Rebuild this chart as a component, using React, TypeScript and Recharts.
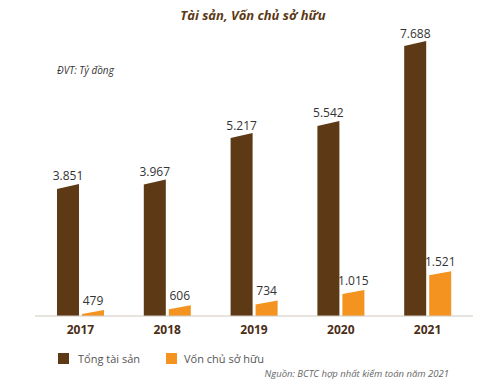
import { BarChart, Bar, XAxis, YAxis, LabelList } from "recharts";

const YEARS = ["2017", "2018", "2019", "2020", "2021"];
const TOTAL_ASSETS = [3851, 3967, 5217, 5542, 7688];
const EQUITY = [479, 606, 734, 1015, 1521];

const BROWN = "#5e3915";
const ORANGE = "#f4931f";
const FONT = "'Open Sans', sans-serif";

const data = YEARS.map((year, i) => ({
   year,
   assets: TOTAL_ASSETS[i],
   equity: EQUITY[i],
}));

const fmt = (v: any) => String(v).replace(/\B(?=(\d{3})+(?!\d))/g, ".");

// bar with a slightly slanted top (left corner lower than the right one)
const slantBar = (slope: number) => (props: any) => {
   const { x, y, width, height, fill } = props;
   const pts = `${x},${y + slope} ${x + width},${y - slope} ${x + width},${y + height} ${x},${y + height}`;
   return <polygon points={pts} fill={fill} />;
};

const App = () => {
   return (
      <div style={{ position: "absolute", left: 0, top: 0, width: 480, height: 385, background: "#fff", fontFamily: FONT }}>
         <div
            style={{
               position: "absolute",
               top: 6,
               left: 0,
               width: 506,
               textAlign: "center",
               fontSize: 13,
               fontWeight: 700,
               fontStyle: "italic",
               color: BROWN,
            }}>
            Tài sản, Vốn chủ sở hữu
         </div>
         <div style={{ position: "absolute", top: 63, left: 57, fontSize: 10, fontStyle: "italic", color: "#333" }}>
            ĐVT: Tỷ đồng
         </div>

         <BarChart width={480} height={385} data={data} margin={{ top: 32, right: 7, left: 35, bottom: 39 }} barSize={22} barGap={3}>
            <XAxis
               dataKey="year"
               height={30}
               padding={{ left: 2, right: 2 }}
               axisLine={{ stroke: "#cfc8c0" }}
               tickLine={false}
               tickSize={0}
               tickMargin={9}
               tick={{ fill: "#4a2e17", fontSize: 12, fontWeight: 700, fontFamily: FONT }}
            />
            <YAxis hide domain={[370, 8000]} allowDataOverflow />
            <Bar dataKey="assets" fill={BROWN} shape={slantBar(2.5)} isAnimationActive={false}>
               <LabelList dataKey="assets" position="top" offset={6} formatter={fmt} fill="#333" fontSize={12} fontFamily={FONT} />
            </Bar>
            <Bar dataKey="equity" fill={ORANGE} shape={slantBar(2)} isAnimationActive={false}>
               <LabelList dataKey="equity" position="top" offset={7} formatter={fmt} fill="#333" fontSize={12} fontFamily={FONT} />
            </Bar>
         </BarChart>

         <div style={{ position: "absolute", top: 351, left: 58, display: "flex", alignItems: "center", fontSize: 11, color: "#555" }}>
            <span style={{ width: 11, height: 11, background: BROWN, display: "inline-block", marginRight: 9 }} />
            <span style={{ marginRight: 26 }}>Tổng tài sản</span>
            <span style={{ width: 11, height: 11, background: ORANGE, display: "inline-block", marginRight: 7 }} />
            <span>Vốn chủ sở hữu</span>
         </div>
         <div style={{ position: "absolute", top: 367, right: 31, fontSize: 9.5, fontStyle: "italic", color: "#666" }}>
            Nguồn: BCTC hợp nhất kiểm toán năm 2021
         </div>
      </div>
   );
};

export default App;
